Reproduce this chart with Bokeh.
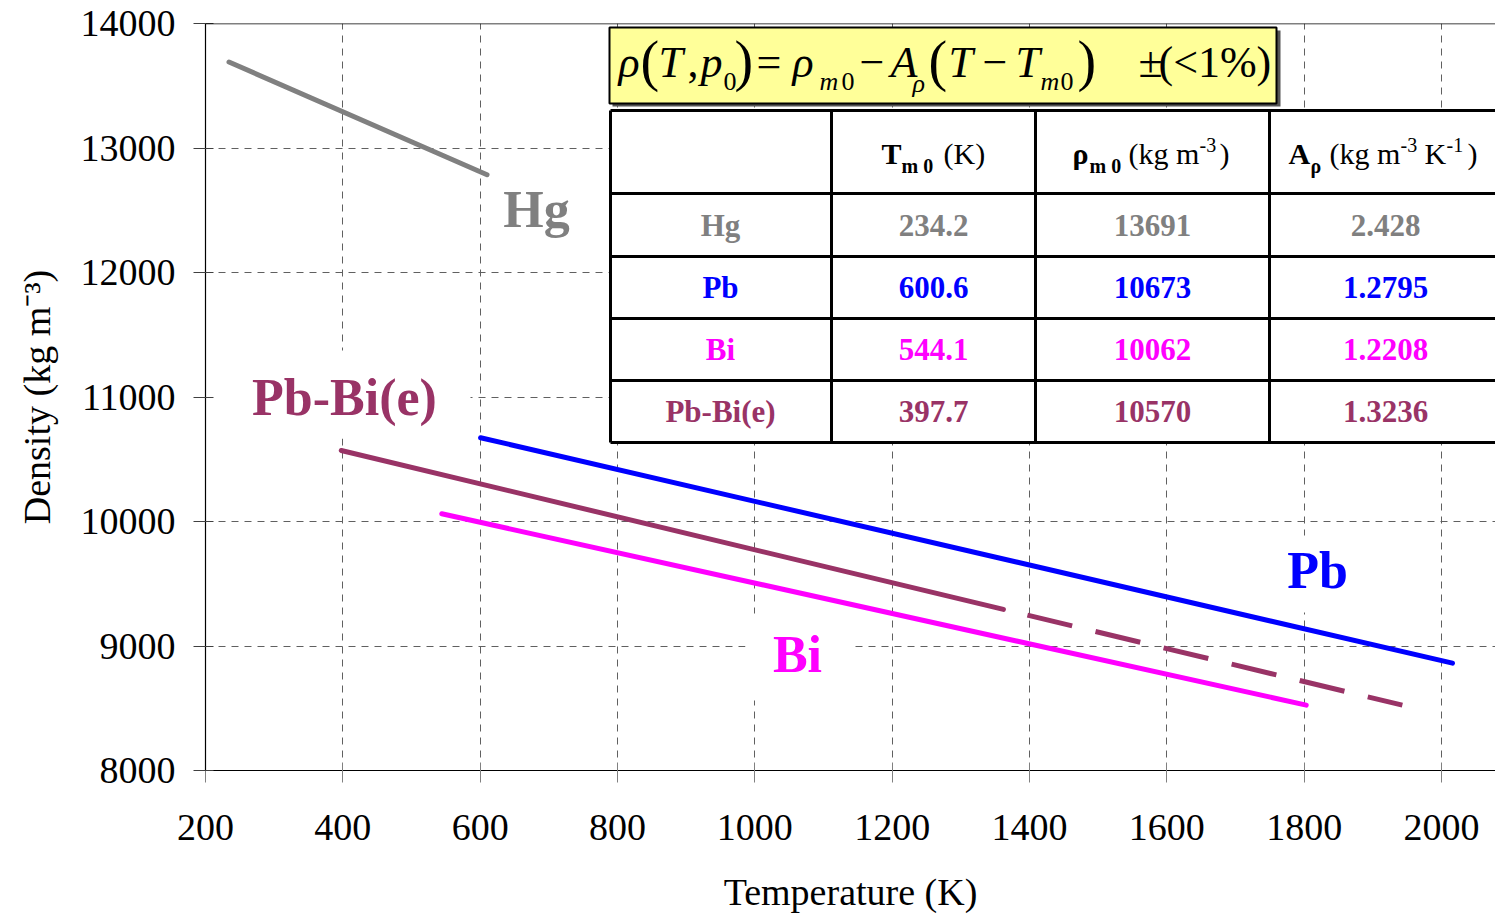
from bokeh.plotting import figure
from bokeh.models import FixedTicker, Span
from bokeh.core.properties import value
from bokeh.embed import file_html
from bokeh.resources import INLINE

# ---------------- data ----------------
hg_T = [234.2, 610.0]
hg_rho = [13691, 12785]
pb_T = [600.6, 2016.0]
pb_rho = [10673, 8862]
bi_T = [544.1, 1803.0]
bi_rho = [10062, 8525]
pbbi_T = [397.7, 1362.0]
pbbi_rho = [10570, 9294]
pbbi_ext_T = [1397.0, 1943.0]
pbbi_ext_rho = [9248, 8525]

materials = ["Hg", "Pb", "Bi", "Pb-Bi(e)"]
tm0 = ["234.2", "600.6", "544.1", "397.7"]
rho_m0 = ["13691", "10673", "10062", "10570"]
a_rho = ["2.428", "1.2795", "1.2208", "1.3236"]
mat_colors = ["#808080", "#0000FF", "#FF00FF", "#993366"]

x_ticks = [200, 400, 600, 800, 1000, 1200, 1400, 1600, 1800, 2000]
y_ticks = [8000, 9000, 10000, 11000, 12000, 13000, 14000]

# ---------------- layout helpers (pixel -> data) ----------------
SX = 1236 / 1800.0
SY = 747 / 6000.0


def X(px):
    return 200 + (px - 205) / SX


def Y(py):
    return 14000 - (py - 23) / SY


def YB(py, size):
    # alphabetic baseline correction (empirical)
    return Y(py - 0.35 * size)


SERIF = value("Liberation Serif")

p = figure(width=1495, height=915, output_backend="svg", toolbar_location=None,
           x_range=(200, X(1495)), y_range=(8000, 14000),
           min_border_left=205, min_border_right=0, min_border_top=23, min_border_bottom=145)
p.background_fill_color = "white"
p.border_fill_color = "white"
p.outline_line_color = None

for ax in (p.xaxis[0], p.yaxis[0]):
    ax.major_label_text_font = "Liberation Serif"
    ax.major_label_text_font_size = "38px"
    ax.major_label_text_color = "black"
    ax.axis_label_text_font = "Liberation Serif"
    ax.axis_label_text_font_size = "38px"
    ax.axis_label_text_font_style = "normal"
    ax.axis_label_text_color = "black"
    ax.axis_line_color = "black"
    ax.axis_line_width = 1.2
    ax.major_tick_in = 8
    ax.major_tick_out = 12
    ax.minor_tick_line_color = None

p.xaxis.ticker = FixedTicker(ticks=x_ticks)
p.yaxis.ticker = FixedTicker(ticks=y_ticks)
p.xaxis.major_tick_line_color = "#808080"
p.yaxis.major_tick_line_color = "#404040"
p.xaxis.axis_label = "Temperature (K)"
p.yaxis.axis_label = "Density (kg m\u207B\u00B3)"
p.xaxis.major_label_standoff = 32
p.yaxis.major_label_standoff = 18
p.xaxis.axis_label_standoff = 28
p.yaxis.axis_label_standoff = 20

for g in (p.xgrid[0], p.ygrid[0]):
    g.grid_line_color = "#606060"
    g.grid_line_dash = "7 6"
    g.grid_line_width = 1

p.add_layout(Span(location=14000, dimension="width", line_color="black", line_width=1.5))

# white boxes behind the series labels
for (l, r, t, b) in [(490, 605, 178, 245), (207, 470, 350, 438), (745, 850, 613, 700), (1265, 1370, 535, 612)]:
    p.quad(left=X(l), right=X(r), top=Y(t), bottom=Y(b), fill_color="white", line_color=None)

# ---------------- series ----------------
p.line(hg_T, hg_rho, line_color="#808080", line_width=5, line_cap="round")
p.line(pb_T, pb_rho, line_color="#0000FF", line_width=5, line_cap="round")
p.line(bi_T, bi_rho, line_color="#FF00FF", line_width=5, line_cap="round")
p.line(pbbi_T, pbbi_rho, line_color="#993366", line_width=5, line_cap="round")
p.line(pbbi_ext_T, pbbi_ext_rho, line_color="#993366", line_width=5, line_dash="46 24")

# series labels
for txt, cx, base, col in [("Hg", 536, 227, "#808080"), ("Pb-Bi(e)", 344, 415, "#993366"),
                           ("Pb", 1317, 588, "#0000FF"), ("Bi", 797, 672, "#FF00FF")]:
    p.text(x=[X(cx)], y=[YB(base, 52)], text=[txt], text_font=SERIF, text_font_size="52px",
           text_font_style="bold", text_color=col, text_align="center", text_baseline="alphabetic")

# ---------------- formula box ----------------
p.quad(left=X(612), right=X(1280), top=Y(30), bottom=Y(106), fill_color="#555555", line_color=None)
p.quad(left=X(609), right=X(1276), top=Y(27), bottom=Y(103), fill_color="#FFFF99",
       line_color="black", line_width=2)

formula = [
    ("\u03C1", 618, 77, 44, "italic"), ("(", 640, 80, 56, "normal"), ("T", 658, 77, 44, "italic"),
    (",", 687, 77, 44, "normal"), ("p", 700, 77, 44, "italic"), ("0", 723, 90, 26, "normal"),
    (")", 734, 80, 56, "normal"), ("=", 756, 77, 44, "normal"), ("\u03C1", 792, 77, 44, "italic"),
    ("m", 819, 90, 26, "italic"), ("0", 841, 90, 26, "normal"), ("\u2212", 859, 77, 44, "normal"),
    ("A", 890, 77, 44, "italic"), ("\u03C1", 912, 92, 26, "italic"), ("(", 928, 80, 56, "normal"),
    ("T", 948, 77, 44, "italic"), ("\u2212", 982, 77, 44, "normal"), ("T", 1015, 77, 44, "italic"),
    ("m", 1040, 90, 26, "italic"), ("0", 1060, 90, 26, "normal"), (")", 1077, 80, 56, "normal"),
    ("\u00B1", 1138, 77, 44, "normal"), ("(<1%)", 1158, 77, 44, "normal"),
]
for txt, lx, base, size, style in formula:
    p.text(x=[X(lx)], y=[YB(base, size)], text=[txt], text_font=SERIF, text_font_size=f"{size}px",
           text_font_style=style, text_color="black", text_align="left", text_baseline="alphabetic")

# ---------------- table ----------------
col_edges = [610, 831, 1035, 1269, 1500]
row_edges = [110, 193, 256, 318, 380, 442]
p.quad(left=X(col_edges[0]), right=X(col_edges[-1]), top=Y(row_edges[0]), bottom=Y(row_edges[-1]),
       fill_color="white", line_color=None)
p.segment(x0=[X(col_edges[0])] * len(row_edges), x1=[X(col_edges[-1])] * len(row_edges),
          y0=[Y(r) for r in row_edges], y1=[Y(r) for r in row_edges], line_color="black", line_width=3)
p.segment(x0=[X(c) for c in col_edges[:-1]], x1=[X(c) for c in col_edges[:-1]],
          y0=[Y(row_edges[0])] * 4, y1=[Y(row_edges[-1])] * 4, line_color="black", line_width=3)

header = [
    ("T", 881, 163, 30, "bold"), ("m 0", 901, 172, 20, "bold"), ("(K)", 943, 163, 30, "normal"),
    ("\u03C1", 1072, 163, 30, "bold"), ("m 0", 1089, 172, 20, "bold"), ("(kg m", 1128, 163, 30, "normal"),
    ("-3", 1199, 151, 20, "normal"), (")", 1219, 163, 30, "normal"),
    ("A", 1288, 163, 30, "bold"), ("\u03C1", 1310, 172, 20, "bold"), ("(kg m", 1329, 163, 30, "normal"),
    ("-3", 1400, 151, 20, "normal"), ("K", 1424, 163, 30, "normal"), ("-1", 1446, 151, 20, "normal"),
    (")", 1467, 163, 30, "normal"),
]
for txt, lx, base, size, style in header:
    p.text(x=[X(lx)], y=[YB(base, size)], text=[txt], text_font=SERIF, text_font_size=f"{size}px",
           text_font_style=style, text_color="black", text_align="left", text_baseline="alphabetic")

col_centers = [720, 933, 1152, 1385]
for i in range(4):
    cy = (row_edges[i + 1] + row_edges[i + 2]) / 2.0
    cells = [materials[i], tm0[i], rho_m0[i], a_rho[i]]
    p.text(x=[X(c) for c in col_centers], y=[Y(cy)] * 4, text=cells, text_font=SERIF,
           text_font_size="31px", text_font_style="bold", text_color=mat_colors[i],
           text_align="center", text_baseline="middle")

open("out.html", "w").write(file_html(p, INLINE))
